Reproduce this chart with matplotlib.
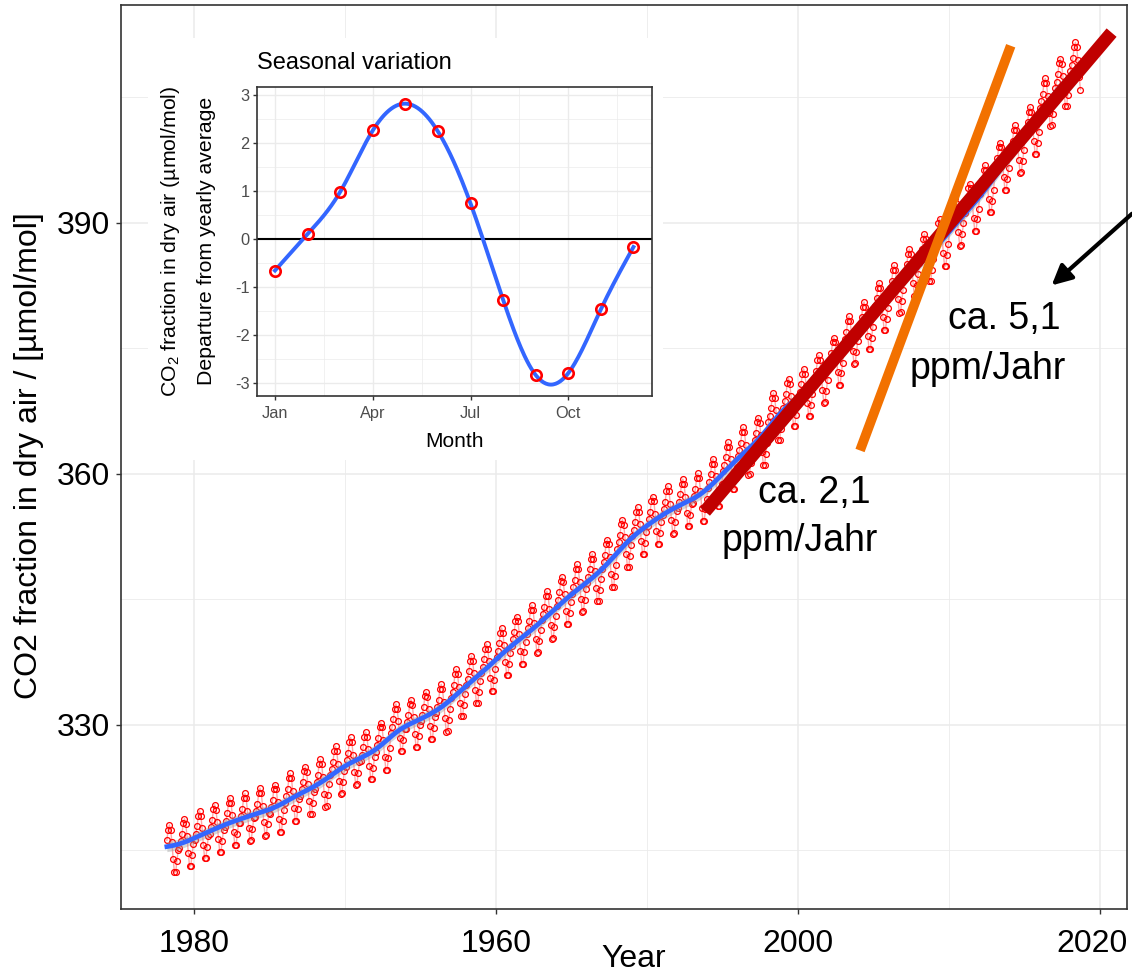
import numpy as np
import matplotlib
matplotlib.use("Agg")
import matplotlib.pyplot as plt
import matplotlib.transforms as mtransforms
from matplotlib.patches import Rectangle

# ================================
# Data
# ================================

# Mauna Loa annual means, ppm (1958 only Mar-Dec)
years = list(range(1958, 2019))
annual_mean = [
    315.23, 315.97, 316.91, 317.64, 318.45, 318.99, 319.62, 320.04, 321.37, 322.18,
    323.05, 324.62, 325.68, 326.32, 327.46, 329.68, 330.19, 331.13, 332.03, 333.84,
    335.41, 336.84, 338.76, 340.12, 341.48, 343.15, 344.87, 346.35, 347.61, 349.31,
    351.69, 353.20, 354.45, 355.70, 356.54, 357.21, 358.96, 360.97, 362.74, 363.88,
    366.84, 368.54, 369.71, 371.32, 373.45, 375.98, 377.70, 379.98, 382.09, 384.02,
    385.83, 387.64, 390.10, 391.85, 394.06, 396.74, 398.81, 401.01, 404.41, 406.76,
    408.72,
]
first_month = 3   # March 1958
last_month = 9    # September 2018

# seasonal departure from yearly average (inset)
months = list(range(1, 13))
seasonal = [-0.66, 0.10, 0.98, 2.26, 2.82, 2.24, 0.74, -1.27, -2.84, -2.80, -1.47, -0.17]

x_ticks = [1960, 1980, 2000, 2020]
x_tick_labels = ["1980", "1960", "2000", "2020"]
y_ticks = [330, 360, 390]

month_ticks = [1, 4, 7, 10]
month_labels = ["Jan", "Apr", "Jul", "Oct"]

# ================================
# Helpers
# ================================

def monthly_series():
    t, v, s = [], [], []
    for year, mean in zip(years, annual_mean):
        for m in months:
            if year == years[0] and m < first_month:
                continue
            if year == years[-1] and m > last_month:
                continue
            t.append(year + (m - 0.5) / 12)
            v.append(mean + seasonal[m - 1])
            s.append(seasonal[m - 1])
    return np.array(t), np.array(v), np.array(s)

def gauss_smooth(y, sigma):
    k = np.arange(-4 * sigma, 4 * sigma + 1)
    w = np.exp(-0.5 * (k / sigma) ** 2)
    num = np.convolve(y, w, mode="same")
    den = np.convolve(np.ones_like(y), w, mode="same")
    return num / den

def natural_spline(x, y, xs):
    x = np.asarray(x, float)
    y = np.asarray(y, float)
    n = len(x)
    h = np.diff(x)
    A = np.zeros((n, n))
    r = np.zeros(n)
    A[0, 0] = A[-1, -1] = 1
    for i in range(1, n - 1):
        A[i, i - 1] = h[i - 1]
        A[i, i] = 2 * (h[i - 1] + h[i])
        A[i, i + 1] = h[i]
        r[i] = 3 * ((y[i + 1] - y[i]) / h[i] - (y[i] - y[i - 1]) / h[i - 1])
    c = np.linalg.solve(A, r)
    b = (y[1:] - y[:-1]) / h - h * (2 * c[:-1] + c[1:]) / 3
    d = (c[1:] - c[:-1]) / (3 * h)
    idx = np.clip(np.searchsorted(x, xs) - 1, 0, n - 2)
    dx = xs - x[idx]
    return y[idx] + b[idx] * dx + c[idx] * dx ** 2 + d[idx] * dx ** 3

# ================================
# Plot
# ================================

plt.rcParams["font.family"] = ["Liberation Sans", "DejaVu Sans"]
plt.rcParams["mathtext.fontset"] = "custom"
plt.rcParams["mathtext.rm"] = "Liberation Sans"
plt.rcParams["axes.unicode_minus"] = False

W, H = 1132, 973
fig = plt.figure(figsize=(W / 100, H / 100), dpi=100)

def px_box(left, top, right, bottom):
    return [left / W, 1 - bottom / H, (right - left) / W, (bottom - top) / H]

GRID = "#EBEBEB"
DARK = "#333333"

# main panel
ax = fig.add_axes(px_box(121, 5, 1126.7, 909))
t, co2, s = monthly_series()
trend = gauss_smooth(co2 - s, 9)

ax.plot(t, co2, color=(1, 0, 0, 0.35), lw=1.0, zorder=2)
ax.plot(t, co2, "o", mfc="none", mec="red", ms=4.2, mew=0.9, zorder=3)
ax.fill_between(t, trend - 0.6, trend + 0.6, color="#999999", alpha=0.4, lw=0, zorder=4)
ax.plot(t, trend, color="#3366FF", lw=3.4, zorder=5)

ax.set_xlim(1955.17, 2021.77)
ax.set_ylim(308.0, 416.0)
ax.set_xticks(x_ticks)
ax.set_xticklabels(x_tick_labels)
ax.set_xticks([1970, 1990, 2010], minor=True)
ax.set_yticks(y_ticks)
ax.set_yticks([315, 345, 375, 405], minor=True)
ax.grid(which="major", color=GRID, lw=1.1)
ax.grid(which="minor", color=GRID, lw=0.6)
ax.set_axisbelow(True)
ax.tick_params(which="minor", length=0)
ax.tick_params(axis="both", which="major", length=3.6, width=1.0, color=DARK, labelsize=23)
ax.tick_params(axis="x", pad=11)
ax.tick_params(axis="y", pad=4.3)
for sp in ax.spines.values():
    sp.set_color(DARK)
    sp.set_linewidth(1.2)

# the last year label sits a little left of its tick, inside the picture
last = ax.get_xticklabels()[-1]
last.set_transform(last.get_transform() +
                   mtransforms.ScaledTranslation(-8 / 100, 0, fig.dpi_scale_trans))

# slope annotations
ax.plot([1993.84, 2020.77], [355.49, 412.70], color="#C00000", lw=9.4,
        solid_capstyle="butt", zorder=6, clip_on=False)
ax.plot([2004.11, 2014.09], [362.78, 411.13], color="#F27100", lw=7.0,
        solid_capstyle="butt", zorder=7, clip_on=False)
ax.annotate("", xy=(2016.80, 382.50), xytext=(2022.12, 391.06),
            arrowprops=dict(arrowstyle="-|>", color="black", lw=3, mutation_scale=30,
                            shrinkA=0, shrinkB=0),
            annotation_clip=False, zorder=8)
ax.text(2009.93, 377.35, "ca. 5,1", fontsize=27, ha="left", va="baseline", zorder=8)
ax.text(2007.42, 371.35, "ppm/Jahr", fontsize=27, ha="left", va="baseline", zorder=8)
ax.text(1997.35, 356.56, "ca. 2,1", fontsize=27, ha="left", va="baseline", zorder=8)
ax.text(1994.95, 350.78, "ppm/Jahr", fontsize=27, ha="left", va="baseline", zorder=8)

fig.text(634 / W, 1 - 967 / H, "Year", ha="center", va="baseline", fontsize=23)
fig.text(29 / W, 1 - 456 / H, "CO2 fraction in dry air / [µmol/mol]",
         rotation=90, ha="center", va="center", fontsize=23)

# white backing for the inset
fig.add_artist(Rectangle((148 / W, 1 - 460 / H), 515 / W, 422 / H,
                         transform=fig.transFigure, facecolor="white",
                         edgecolor="none", zorder=1))

# inset: seasonal variation
ax2 = fig.add_axes(px_box(257.3, 86.7, 651.7, 396))
ax2.set_zorder(2)
xs = np.linspace(1, 12, 300)
ax2.axhline(0, color="black", lw=1.5, zorder=2)
ax2.plot(xs, natural_spline(months, seasonal, xs), color="#3366FF", lw=2.8, zorder=3)
ax2.plot(months, seasonal, "o", mfc="none", mec="red", ms=7.5, mew=1.9, zorder=4)

ax2.set_xlim(0.457, 12.56)
ax2.set_ylim(-3.277, 3.173)
ax2.set_xticks(month_ticks)
ax2.set_xticklabels(month_labels)
ax2.set_xticks([2.5, 5.5, 8.5, 11.5], minor=True)
ax2.set_yticks(range(-3, 4))
ax2.set_yticks(np.arange(-2.5, 3, 1), minor=True)
ax2.grid(which="major", color=GRID, lw=1.0)
ax2.grid(which="minor", color=GRID, lw=0.5)
ax2.set_axisbelow(True)
ax2.tick_params(which="minor", length=0)
ax2.tick_params(which="major", length=3, width=1.0, color=DARK,
                labelsize=11.8, labelcolor="#4D4D4D")
ax2.tick_params(axis="x", pad=4)
ax2.tick_params(axis="y", pad=2.5)
for sp in ax2.spines.values():
    sp.set_color(DARK)
    sp.set_linewidth(1.2)
ax2.set_title("Seasonal variation", loc="left", fontsize=17, pad=12.5)

fig.text(454.5 / W, 1 - 447 / H, "Month", ha="center", va="baseline", fontsize=15)
fig.text(170 / W, 1 - 241 / H, "CO$_2$ fraction in dry air (µmol/mol)",
         rotation=90, ha="center", va="center", fontsize=15.3)
fig.text(207 / W, 1 - 241 / H, "Departure from yearly average",
         rotation=90, ha="center", va="center", fontsize=15.3)

fig.savefig("out.png", dpi=100)
